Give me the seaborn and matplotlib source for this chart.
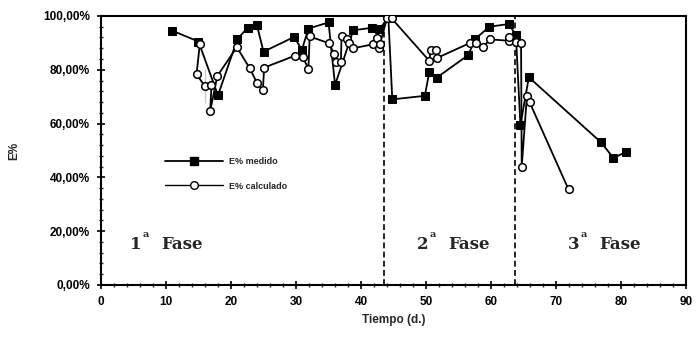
import matplotlib
matplotlib.use("Agg")
import matplotlib.pyplot as plt
from matplotlib.ticker import FuncFormatter, MultipleLocator
from matplotlib.lines import Line2D
import seaborn as sns
import pandas as pd

# E% medido (tiempo en días, eficiencia en %)
t_medido = [11, 15, 18, 21, 22.6, 24, 25, 29.7, 30.9, 31.9, 35, 36, 38.8, 41.7,
            42.8, 44.2, 44.8, 49.8, 50.5, 51.6, 56.5, 57.5, 59.7, 62.7, 63.8,
            64.5, 65.8, 76.9, 78.8, 80.8]
e_medido = [94.5, 90.5, 70.5, 91.5, 95.7, 96.5, 86.7, 92.2, 87.4, 95.3, 97.6,
            74.3, 94.7, 95.6, 95.2, 99.2, 69.0, 70.3, 79.3, 77.0, 85.5, 91.3,
            96.0, 97.0, 93.0, 59.5, 77.2, 53.0, 47.2, 49.5]

# E% calculado
t_calculado = [15.2, 14.7, 16.0, 16.0, 17.0, 16.8, 17.9, 20.9, 22.9, 24.0, 24.0,
               24.9, 25.1, 29.9, 31.0, 31.9, 32.1, 35.0, 35.9, 36.2, 36.9, 37.0,
               37.9, 38.1, 38.8, 41.9, 42.5, 42.7, 42.9, 44.0, 44.7, 50.5, 50.7,
               51.5, 51.6, 56.7, 57.7, 58.8, 59.8, 62.7, 62.8, 63.8, 64.6, 64.7,
               65.5, 65.9, 71.9]
e_calculado = [89.5, 78.3, 80.2, 67.5, 74.3, 64.7, 77.7, 88.4, 80.5, 77.0, 73.1,
               72.5, 80.8, 85.3, 84.9, 80.4, 92.4, 89.9, 85.9, 83.0, 82.8, 92.7,
               91.4, 89.9, 88.0, 89.5, 91.9, 88.0, 89.5, 99.3, 99.1, 83.3, 87.4,
               87.4, 84.3, 89.9, 90.1, 88.4, 91.3, 90.8, 92.3, 90.5, 90.1, 44.0,
               70.3, 68.0, 35.5]

# límites entre fases
limites_fase = [43.5, 63.6]
fases = ["1", "2", "3"]
pos_fases = [4.5, 48.6, 71.8]

x_ticks = list(range(0, 91, 10))
y_ticks = list(range(0, 101, 20))

sns.set_style("ticks")
plt.rcParams["font.family"] = ["Liberation Sans", "DejaVu Sans"]

fig = plt.figure(figsize=(6.96, 3.40), dpi=100)
ax = fig.add_axes([0.145, 0.162, 0.841, 0.791])

df_m = pd.DataFrame({"t": t_medido, "e": e_medido})
df_c = pd.DataFrame({"t": t_calculado, "e": e_calculado})

sns.lineplot(data=df_m, x="t", y="e", sort=False, ax=ax, color="black",
             linewidth=1.3, marker="s", markersize=5.5, markerfacecolor="black",
             markeredgecolor="black", zorder=3)
sns.lineplot(data=df_c, x="t", y="e", sort=False, ax=ax, color="black",
             linewidth=1.3, marker="o", markersize=5.5, markerfacecolor="white",
             markeredgecolor="black", markeredgewidth=1.1, zorder=4)

for xl in limites_fase:
    ax.plot([xl, xl], [0, 100], color="black", linestyle=(0, (3.5, 2)),
            linewidth=1.2, zorder=2)

serif = ["DejaVu Serif", "Liberation Serif"]
for num, x0 in zip(fases, pos_fases):
    ax.text(x0, 15, num, family=serif, fontweight="bold", fontsize=12,
            ha="left", va="center")
    ax.text(x0 + 1.9, 18.8, "a", family=serif, fontweight="bold", fontsize=7,
            ha="left", va="center")
    ax.text(x0 + 4.8, 15, "Fase", family=serif, fontweight="bold", fontsize=12,
            ha="left", va="center")

ax.set_xlim(0, 90)
ax.set_ylim(0, 100)
ax.set_xticks(x_ticks)
ax.set_yticks(y_ticks)
ax.xaxis.set_minor_locator(MultipleLocator(2))
ax.yaxis.set_minor_locator(MultipleLocator(4))
ax.yaxis.set_major_formatter(
    FuncFormatter(lambda v, p: f"{v:.2f}".replace(".", ",") + "%"))

ax.tick_params(which="major", direction="inout", length=6, width=1.2,
               labelsize=8.5, colors="black", pad=5)
ax.tick_params(which="minor", direction="inout", length=3, width=1.0)
for lab in ax.get_xticklabels() + ax.get_yticklabels():
    lab.set_fontweight("bold")

for s in ax.spines.values():
    s.set_visible(True)
    s.set_linewidth(1.5)
    s.set_color("black")

ax.set_xlabel("Tiempo (d.)", fontsize=8.5, fontweight="bold", labelpad=4)
ax.set_ylabel("E%", fontsize=8.5, fontweight="bold", labelpad=16)

handles = [
    Line2D([], [], color="black", linewidth=1.3, marker="s", markersize=5.5,
           markerfacecolor="black", markeredgecolor="black"),
    Line2D([], [], color="black", linewidth=1.0, marker="o", markersize=5.5,
           markerfacecolor="white", markeredgecolor="black"),
]
ax.legend(handles, ["E% medido", "E% calculado"], loc="upper left",
          bbox_to_anchor=(0.095, 0.505), frameon=False, handlelength=6.5,
          prop={"size": 6.5, "weight": "bold"}, labelspacing=1.7,
          handletextpad=0.6)

fig.savefig("out.png", dpi=100, facecolor="white")
